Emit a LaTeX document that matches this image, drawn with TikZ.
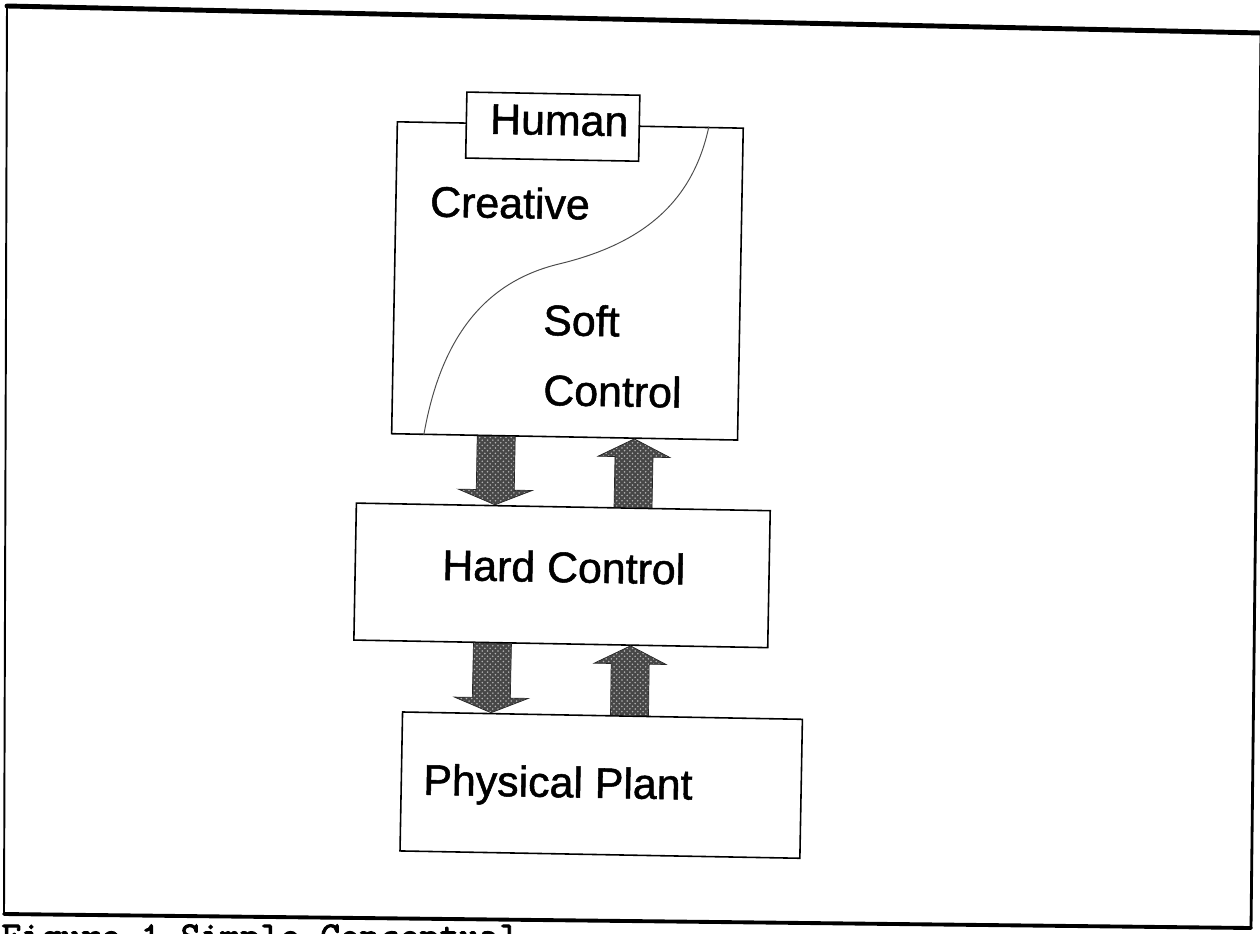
\documentclass[tikz,border=0pt]{standalone}
\usepackage{fontspec}
\setmainfont{Liberation Sans}
\newfontfamily\lblfont[FakeBold=1.2]{Liberation Sans}
\newfontfamily\capfont[FakeBold=2.2]{lmmono10-regular.otf}
\usetikzlibrary{calc,patterns}

\tikzset{
  layerbox/.style={draw, line width=0.9pt, inner sep=0pt, fill=white, transform shape},
  lbl/.style={inner sep=0pt, anchor=base west, transform shape,
              font=\lblfont\fontsize{24.4}{29}\selectfont},
  fatfill/.style={draw=black!85, line width=0.4pt, preaction={fill=black!72},
                  pattern=crosshatch dots, pattern color=white!70!black},
  divide/.style={draw=black!70, line width=0.55pt},
  frameline/.style={line cap=round, line join=round},
}

% block arrows: #1 tail point, #2 tip point
\newcommand{\fatdown}[2]{%
  \draw[fatfill] ($(#1)+(-19,0)$) -- ($(#1)+(19,0)$) -- ($(#2)+(19,-15)$)
    -- ($(#2)+(37,-15)$) -- (#2) -- ($(#2)+(-37,-15)$) -- ($(#2)+(-19,-15)$) -- cycle;}
\newcommand{\fatup}[2]{%
  \draw[fatfill] ($(#1)+(-19,0)$) -- ($(#1)+(19,0)$) -- ($(#2)+(19,18)$)
    -- ($(#2)+(36,18)$) -- (#2) -- ($(#2)+(-36,18)$) -- ($(#2)+(-19,18)$) -- cycle;}

\begin{document}
\begin{tikzpicture}[x=0.02cm, y=-0.02cm]
\useasboundingbox (0,0) rectangle (1260,933);
\clip (0,0) rectangle (1260,933);

% outer frame
\coordinate (ftl) at (7,6);
\coordinate (ftr) at (1261,33);
\coordinate (fbr) at (1251,928);
\coordinate (fbl) at (4,914);
\draw[frameline, line width=2.8pt] (ftl) -- (ftr);
\draw[frameline, line width=1.6pt] (ftr) -- (fbr);
\draw[frameline, line width=2.2pt] (fbr) -- (fbl);
\draw[frameline, line width=1.1pt] (fbl) -- (ftl);

% caption, running off the bottom edge
\node[anchor=base west, inner sep=0pt, font=\capfont\fontsize{21.6}{26}\selectfont]
  (caption) at (1,948) {Figure 1 Simple Conceptual};

\begin{scope}[rotate=-1.05]
  % soft-control layer with the human on top
  \node[layerbox, minimum width=6.92cm, minimum height=6.24cm] (soft) at (572.5,270.5) {};
  \node[layerbox, minimum width=3.46cm, minimum height=1.32cm] (human) at (555,116.5) {};
  \node[lbl] (humantxt) at (492,124.8) {Human};

  % boundary between creative and soft control
  \coordinate (cv1) at ($(soft.north west)!0.899!(soft.north east)$);
  \coordinate (cv2) at ($(soft.south west)!0.095!(soft.south east)$);
  \draw[divide] (cv1) .. controls (696.5,188.5) and (648.5,231.5) .. (564.5,253.5)
                      .. controls (498.5,270.5) and (448.5,318.5) .. (cv2);

  \node[lbl] (creative) at (433.5,208.7) {Creative};
  \node[lbl] (softtxt) at (548.8,325.1) {Soft};
  \node[lbl] (controltxt) at (550.1,395.1) {Control};

  % hard control and plant
  \node[layerbox, minimum width=8.28cm, minimum height=2.74cm] (hard) at (572.5,565) {};
  \node[lbl] (hardtxt) at (452.3,571.8) {Hard Control};
  \node[layerbox, minimum width=8.0cm, minimum height=2.78cm] (plant) at (615.5,774) {};
  \node[lbl] (planttxt) at (437.3,786.8) {Physical Plant};

  % arrow end points on the box edges
  \coordinate (a1t) at ($(soft.south west)!0.3035!(soft.south east)$);
  \coordinate (a1h) at ($(hard.north west)!0.3357!(hard.north east)$);
  \coordinate (a2t) at ($(hard.north west)!0.668!(hard.north east)$);
  \coordinate (a2h) at ($(soft.south west)!0.701!(soft.south east)$);
  \coordinate (a3t) at ($(hard.south west)!0.3357!(hard.south east)$);
  \coordinate (a3h) at ($(plant.north west)!0.2225!(plant.north east)$);
  \coordinate (a4t) at ($(plant.north west)!0.5675!(plant.north east)$);
  \coordinate (a4h) at ($(hard.south west)!0.668!(hard.south east)$);

  \fatdown{a1t}{a1h}
  \fatup{a2t}{a2h}
  \fatdown{a3t}{a3h}
  \fatup{a4t}{a4h}
\end{scope}
\end{tikzpicture}
\end{document}
